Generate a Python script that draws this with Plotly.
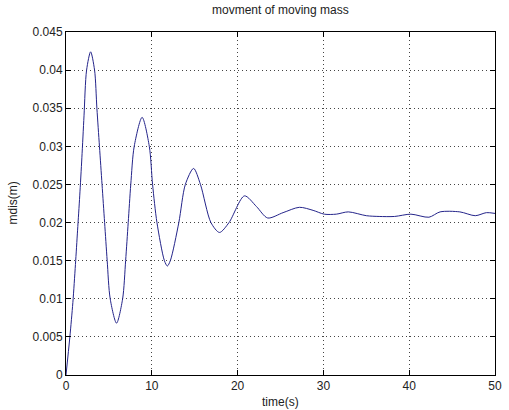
import plotly.graph_objects as go

time_s = [0, 0.45, 0.8, 1.1, 1.35, 1.6, 1.85, 2.1, 2.4, 2.87, 3.33, 3.6, 3.9, 4.2, 4.5,
          4.8, 5.15, 5.89, 6.6, 6.95, 7.25, 7.55, 7.95, 8.87, 9.71, 10.09, 10.6, 11.47,
          11.81, 12.16, 13.15, 13.91, 14.87, 15.67, 16.89, 17.89, 19.0, 20.8, 22.2,
          23.5, 25.3, 27.2, 28.8, 30.1, 31.5, 32.9, 35.0, 36.5, 38.3, 40.2, 42.3,
          43.6, 45.9, 47.7, 49.0, 50.0]
mdis = [0, 0.005, 0.0095, 0.0145, 0.019, 0.0235, 0.0285, 0.034, 0.04, 0.0424, 0.04,
        0.035, 0.03, 0.025, 0.02, 0.015, 0.01, 0.0068, 0.01, 0.015, 0.02, 0.025, 0.03,
        0.0338, 0.03, 0.025, 0.02, 0.015, 0.0143, 0.015, 0.02, 0.025, 0.0271, 0.025,
        0.02, 0.0187, 0.02, 0.0235, 0.0221, 0.0206, 0.0213, 0.0220, 0.0216, 0.0211,
        0.0211, 0.0214, 0.0209, 0.0208, 0.0208, 0.0211, 0.0207, 0.0214, 0.0214,
        0.0209, 0.0213, 0.0212]

x_ticks = [0, 10, 20, 30, 40, 50]
y_ticks = [0, 0.005, 0.01, 0.015, 0.02, 0.025, 0.03, 0.035, 0.04, 0.045]
y_tick_labels = ["0", "0.005", "0.01", "0.015", "0.02", "0.025", "0.03", "0.035", "0.04", "0.045"]

FONT = "Liberation Sans, Arial, sans-serif"

fig = go.Figure()
fig.add_trace(go.Scatter(x=time_s, y=mdis, mode="lines",
                         line=dict(color="#24248a", width=1, shape="spline", smoothing=0.8),
                         showlegend=False, hoverinfo="skip"))

axis_common = dict(showline=True, linecolor="#000", linewidth=1, mirror="ticks",
                   ticks="inside", ticklen=5, tickcolor="#000", tickwidth=1,
                   showgrid=True, gridcolor="#444", gridwidth=1, griddash="1px,3px",
                   zeroline=False, tickfont=dict(family=FONT, size=12, color="#222"))

fig.update_xaxes(range=[0, 50], tickvals=x_ticks, ticktext=[str(v) for v in x_ticks],
                 **axis_common)
fig.update_yaxes(range=[0, 0.045], tickvals=y_ticks, ticktext=y_tick_labels,
                 **axis_common)

fig.update_layout(
    width=509, height=410, autosize=False,
    margin=dict(l=66, r=7, t=32, b=35),
    paper_bgcolor="white", plot_bgcolor="white",
    font=dict(family=FONT, size=11, color="#222"),
    annotations=[
        dict(text="movment of moving mass", xref="paper", yref="paper", x=0.5, y=1,
             yshift=22, showarrow=False, xanchor="center", yanchor="middle",
             font=dict(family=FONT, size=12, color="#222")),
        dict(text="time(s)", xref="paper", yref="paper", x=0.5, y=0,
             yshift=-27, showarrow=False, xanchor="center", yanchor="middle",
             font=dict(family=FONT, size=12, color="#222")),
        dict(text="mdis(m)", xref="paper", yref="paper", x=0, y=0.5,
             xshift=-54, showarrow=False, textangle=-90, xanchor="center", yanchor="middle",
             font=dict(family=FONT, size=12, color="#222")),
    ],
)

fig.write_html("out.html",
               config={"displayModeBar": False, "responsive": False},
               post_script="document.body.style.margin='0';document.body.style.overflow='hidden';")
